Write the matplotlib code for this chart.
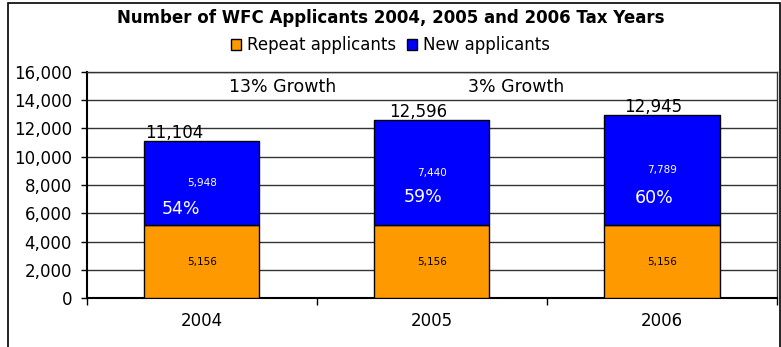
import numpy as np
import matplotlib.pyplot as plt
from matplotlib.patches import Rectangle, Patch

years = ['2004', '2005', '2006']
repeat = [5156, 5156, 5156]
new = [5948, 7440, 7789]
totals = [11104, 12596, 12945]
pct_new = ['54%', '59%', '60%']
growth = ['13% Growth', '3% Growth']

# label placement (layout only)
total_dx = [-0.12, -0.06, -0.04]
pct_pos = [(-0.09, 6311), (0.96, 7180), (1.965, 7090)]
growth_pos = [(0.352, 14900), (1.365, 14900)]

orange = '#FF9900'
blue = '#0000FF'

fig = plt.figure(figsize=(7.81, 3.47), dpi=100)
ax = fig.add_axes([0.111, 0.141, 0.884, 0.652])

x = np.arange(len(years))
ax.bar(x, repeat, width=0.5, color=orange, edgecolor='black', linewidth=1, zorder=3,
       label='Repeat applicants')
ax.bar(x, new, width=0.5, bottom=repeat, color=blue, edgecolor='black', linewidth=1,
       zorder=3, label='New applicants')

for i in range(len(years)):
    ax.text(x[i], repeat[i] / 2, f'{repeat[i]:,}', ha='center', va='center',
            fontsize=7.5, color='black', zorder=4)
    ax.text(x[i], repeat[i] + new[i] / 2, f'{new[i]:,}', ha='center', va='center',
            fontsize=7.5, color='white', zorder=4)
    ax.text(x[i] + total_dx[i], totals[i] - 80, f'{totals[i]:,}', ha='center',
            va='bottom', fontsize=12, color='black', zorder=4)
    ax.text(pct_pos[i][0], pct_pos[i][1], pct_new[i], ha='center', va='center',
            fontsize=12.5, color='white', zorder=4)

for g, (gx, gy) in zip(growth, growth_pos):
    ax.text(gx, gy, g, ha='center', va='center', fontsize=12.5)

ax.set_xlim(-0.5, 2.5)
ax.set_ylim(0, 16000)
ax.set_yticks(np.arange(0, 16001, 2000))
ax.set_yticklabels([f'{v:,}' for v in range(0, 16001, 2000)], fontsize=12)
ax.set_xticks(x)
ax.set_xticklabels(years, fontsize=12)
ax.tick_params(axis='x', length=0, pad=10)
ax.set_xticks([-0.5, 0.5, 1.5, 2.5], minor=True)
ax.tick_params(axis='x', which='minor', length=5, width=1, direction='out')
ax.tick_params(axis='y', length=4.5, width=1, direction='out', pad=6)
ax.yaxis.grid(True, color='#333333', linewidth=1)
ax.set_axisbelow(True)
for s in ['top', 'right']:
    ax.spines[s].set_color('#333333')
    ax.spines[s].set_linewidth(1)
for s in ['left', 'bottom']:
    ax.spines[s].set_linewidth(1.5)

fig.text(0.5, 0.948, 'Number of WFC Applicants 2004, 2005 and 2006 Tax Years',
         ha='center', va='center', fontsize=12, fontweight='bold')

handles = [Patch(facecolor=orange, edgecolor='black', label='Repeat applicants'),
           Patch(facecolor=blue, edgecolor='black', label='New applicants')]
fig.legend(handles=handles, loc='center', bbox_to_anchor=(0.5, 0.87), ncol=2,
           frameon=False, fontsize=12, handlelength=0.6, handleheight=0.6,
           handletextpad=0.4, columnspacing=0.6, borderaxespad=0)

fig.patches.append(Rectangle((8 / 781, -0.1), 772 / 781, 1.1 - 3 / 347,
                             transform=fig.transFigure, fill=False,
                             edgecolor='black', linewidth=1.2))

fig.savefig('out.png', dpi=100)
